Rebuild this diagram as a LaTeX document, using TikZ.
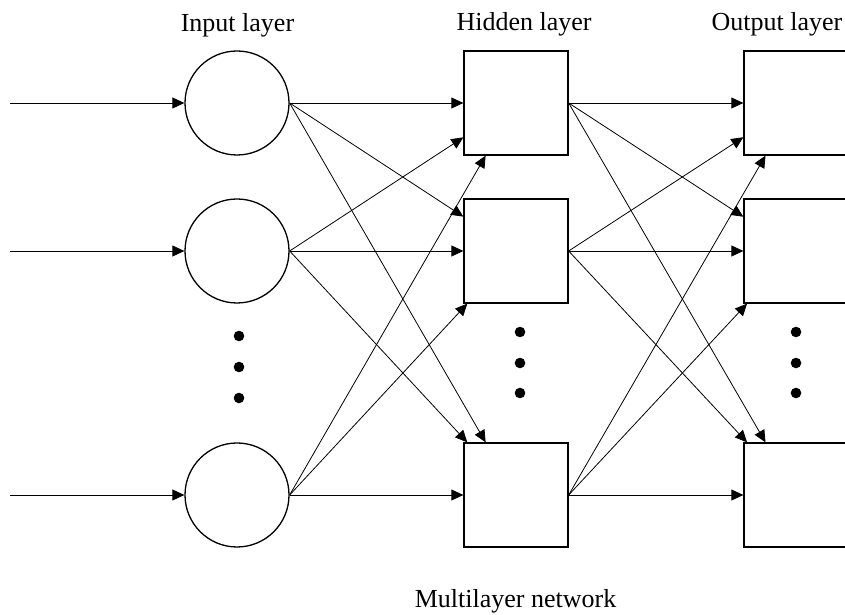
\documentclass[tikz,border=0pt]{standalone}
\usepackage{fontspec}
\setmainfont{Liberation Serif}
\usepackage{tikz}
\usepackage{xcolor}
\usetikzlibrary{arrows.meta}

\begin{document}
\begin{tikzpicture}[x=1pt, y=1pt,
	neuron/.style={circle, draw, line width=1.3pt, minimum size=104pt, inner sep=0pt},
	unit/.style={rectangle, draw, line width=1.3pt, minimum size=104pt, inner sep=0pt},
	link/.style={line width=0.8pt, -{Triangle[length=12pt, width=11pt]}},
	caption/.style={anchor=base, font=\fontsize{26}{30}\selectfont}]
	\useasboundingbox (0,0) rectangle (845,615);
	
	\node[caption] (tin) at (237.5,583.5) {Input layer};
	\node[caption] (thid) at (524,584.3) {Hidden layer};
	\node[caption] (tout) at (777,584.3) {Output layer};
	\node[caption] (tnet) at (515.5,7) {Multilayer network};
	
	\node[neuron] (i1) at (237,512) {};
	\node[neuron] (i2) at (237,364) {};
	\node[neuron] (i3) at (237,120) {};
	\node[unit] (h1) at (516,512) {};
	\node[unit] (h2) at (516,364) {};
	\node[unit] (h3) at (516,120) {};
	\node[unit] (o1) at (796,512) {};
	\node[unit] (o2) at (796,364) {};
	\node[unit] (o3) at (796,120) {};
	
	\coordinate (x1) at (10,512);
	\coordinate (x2) at (10,364);
	\coordinate (x3) at (10,120);
	\draw[link] (x1) -- (i1);
	\draw[link] (x2) -- (i2);
	\draw[link] (x3) -- (i3);
	
	\foreach \a in {1,2,3}
		\foreach \b in {1,2,3} {
			\draw[link] (i\a.east) -- (h\b);
			\draw[link] (h\a.east) -- (o\b);
		}
	
	\fill (239,279) circle (5.3) (239,248) circle (5.3) (239,217) circle (5.3);
	\fill (520,283) circle (5.3) (520,252) circle (5.3) (520,222) circle (5.3);
	\fill (796,283) circle (5.3) (796,252) circle (5.3) (796,222) circle (5.3);
\end{tikzpicture}
\end{document}
